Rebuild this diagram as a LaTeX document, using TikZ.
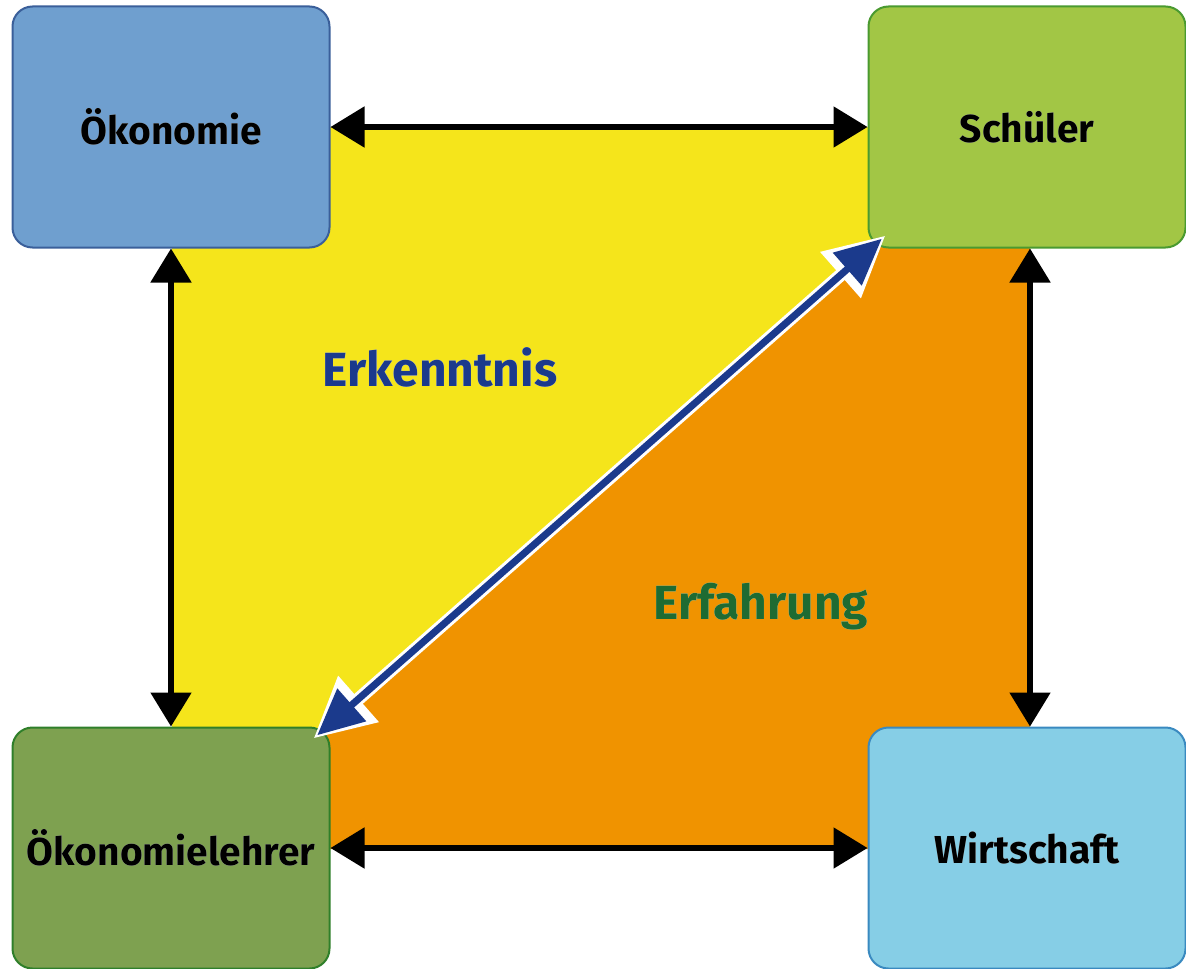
\documentclass[tikz,border=0pt]{standalone}
\usepackage{fontspec}
\setmainfont{Fira Sans}
\usepackage[outline]{contour}
\contourlength{1.4pt}
\usetikzlibrary{arrows.meta}
\definecolor{cyellow}{HTML}{F5E51B}
\definecolor{corange}{HTML}{F09300}
\definecolor{oekfill}{HTML}{6F9FCF}
\definecolor{oekdraw}{HTML}{3A5F9A}
\definecolor{schfill}{HTML}{A2C645}
\definecolor{schdraw}{HTML}{4A9A30}
\definecolor{lehrfill}{HTML}{7EA150}
\definecolor{lehrdraw}{HTML}{2F7F2A}
\definecolor{wirtfill}{HTML}{86CEE6}
\definecolor{wirtdraw}{HTML}{3A8AC0}
\definecolor{cblue}{HTML}{1B3A8C}
\definecolor{cgreen}{HTML}{1E6B32}
\definecolor{halo}{HTML}{FFF6D8}
\definecolor{boxhalo}{HTML}{EEF2F4}
\tikzset{
  box/.style={draw, line width=1pt, rounded corners=10pt, minimum width=158.5pt, minimum height=120.5pt, inner sep=0pt, font=\bfseries\fontsize{19.5}{21}\selectfont, text=black},
  blackarrow/.style={line width=2.6pt, {Triangle[length=17pt,width=20pt]}-{Triangle[length=17pt,width=20pt]}},
  bigword/.style={font=\bfseries\fontsize{24}{26}\selectfont}
}
\begin{document}
\begin{tikzpicture}[x=0.5pt,y=-0.5pt]
\useasboundingbox (0,0) rectangle (1186,968);
% background areas
\fill[cyellow] (172,127) -- (1002,127) -- (197,849) -- (172,849) -- cycle;
\fill[corange] (1002,127) -- (1030,127) -- (1030,849) -- (197,849) -- cycle;
% boxes
\node[box, fill=oekfill, draw=oekdraw] (oek) at (171,127) {\contour{boxhalo}{Ökonomie}};
\node[box, fill=schfill, draw=schdraw] (sch) at (1027,127) {\contour{boxhalo}{Schüler}};
\node[box, fill=lehrfill, draw=lehrdraw] (lehr) at (171,848) {\contour{boxhalo}{Ökonomielehrer}};
\node[box, fill=wirtfill, draw=wirtdraw] (wirt) at (1027,848) {\contour{boxhalo}{Wirtschaft}};
% labels
\node[bigword, text=cblue] (erk) at (440,367) {\contourlength{1.6pt}\contour{white}{Erkenntnis}};
\node[bigword, text=cgreen] (erf) at (761,607) {\contourlength{1.6pt}\contour{halo}{Erfahrung}};
% black arrows
\draw[blackarrow] (oek.east) -- (sch.west);
\draw[blackarrow] (lehr.east) -- (wirt.west);
\draw[blackarrow] (oek.south) -- (lehr.north);
\draw[blackarrow] ([xshift=1.5pt]sch.south) -- ([xshift=1.5pt]wirt.north);
% diagonal arrow
\coordinate (d1) at ([shift={(-17,12)}]lehr.north east);
\coordinate (d2) at ([shift={(18,-13)}]sch.south west);
\draw[white, line width=6.5pt, {Triangle[length=30pt,width=29pt]}-{Triangle[length=30pt,width=29pt]}] (d1) -- (d2);
\draw[cblue, line width=3.5pt, shorten <=2.5pt, shorten >=2.5pt, {Triangle[length=23pt,width=21pt]}-{Triangle[length=23pt,width=21pt]}] (d1) -- (d2);
\end{tikzpicture}
\end{document}
